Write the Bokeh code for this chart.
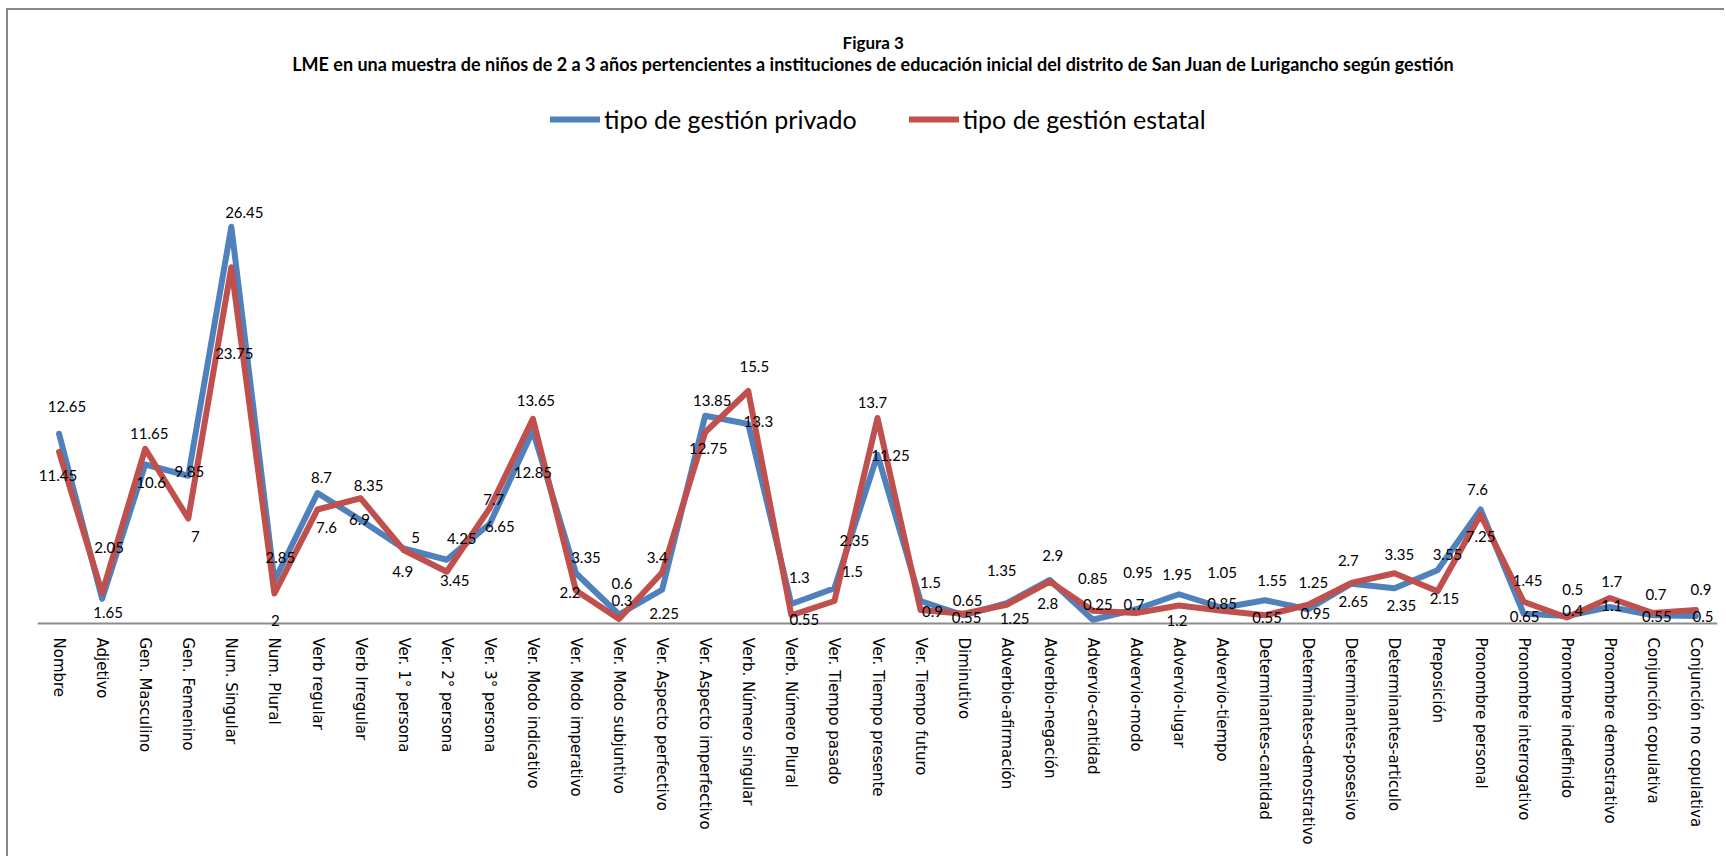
from bokeh.plotting import figure
from bokeh.models import (ColumnDataSource, FactorRange, Range1d, LabelSet, Label,
                          Legend, LegendItem, Span)
from bokeh.core.properties import value
from bokeh.embed import file_html
from bokeh.resources import INLINE

# Categorías gramaticales (eje X)
categorias = [
    "Nombre", "Adjetivo", "Gen. Masculino", "Gen. Femenino", "Num. Singular",
    "Num. Plural", "Verb regular", "Verb Irregular", "Ver. 1° persona",
    "Ver. 2° persona", "Ver. 3° persona", "Ver. Modo indicativo",
    "Ver. Modo imperativo", "Ver. Modo subjuntivo", "Ver. Aspecto perfectivo",
    "Ver. Aspecto imperfectivo", "Verb. Número singular", "Verb. Número Plural",
    "Ver. Tiempo pasado", "Ver. Tiempo presente", "Ver. Tiempo futuro",
    "Diminutivo", "Adverbio-afirmación", "Adverbio-negación", "Advervio-cantidad",
    "Advervio-modo", "Advervio-lugar", "Advervio-tiempo", "Determinantes-cantidad",
    "Determinates-demostrativo", "Determinantes-posesivo", "Determinantes-articulo",
    "Preposición", "Pronombre personal", "Pronombre interrogativo",
    "Pronombre indefinido", "Pronombre demostrativo", "Conjunción copulativa",
    "Conjunción no copulativa",
]

# Promedios por tipo de gestión
privado = [
    12.65, 1.65, 10.6, 9.85, 26.45, 2.85, 8.7, 6.9, 5, 4.25, 6.65, 12.85,
    3.35, 0.6, 2.25, 13.85, 13.3, 1.3, 2.35, 11.25, 1.5, 0.55, 1.35, 2.9,
    0.25, 0.95, 1.95, 1.05, 1.55, 0.95, 2.65, 2.35, 3.55, 7.6, 0.65, 0.5,
    1.1, 0.55, 0.5,
]
estatal = [
    11.45, 2.05, 11.65, 7, 23.75, 2, 7.6, 8.35, 4.9, 3.45, 7.7, 13.65,
    2.2, 0.3, 3.4, 12.75, 15.5, 0.55, 1.5, 13.7, 0.9, 0.65, 1.25, 2.8,
    0.85, 0.7, 1.2, 0.85, 0.55, 1.25, 2.7, 3.35, 2.15, 7.25, 1.45, 0.4,
    1.7, 0.7, 0.9,
]

titulo = "Figura 3"
subtitulo = ("LME en una muestra de niños de 2 a 3 años pertencientes a instituciones "
             "de educación inicial del distrito de San Juan de Lurigancho según gestión")
nombre_privado = "tipo de gestión privado"
nombre_estatal = "tipo de gestión estatal"

# Desplazamiento (px) de cada etiqueta de valor respecto de su punto
# (positivo: a la derecha / hacia arriba)
etiq_dx_privado = [8, 6, 6, 1, 13, 6, 4, -1, 12, 15, 10, 0, 10, 3, 2, 7, 10, 8, 20,
                   13, 10, 3, -5, 3, 5, 2, -2, 0, 7, 7, 2, 7, 10, -3, 1, 6, 2, 4, 7]
etiq_dy_privado = [27, -14, -18, 4, 14, 23, 16, 1, 11, 21, -3, -42, 16, 31, -24, 15,
                   3, 27, 48, -1, 19, -2, 33, 25, 15, 37, 20, 35, 20, -4, -18, -17,
                   16, 20, -3, 27, 2, -1, 0]
etiq_dx_estatal = [-1, 7, 4, 7, 3, 1, 9, 8, -1, 8, 4, 3, -6, 3, -5, 3, 6, 13, 18,
                   -5, 12, 4, 8, -2, 0, -2, -2, 0, 2, 5, -3, 5, 7, 0, 4, 6, 2, 3, 5]
etiq_dy_estatal = [-24, 45, 15, -18, -86, -27, -18, 13, -21, -9, 9, 18, -2, 19, 15,
                   -16, 25, -4, 30, 16, -1, 13, -14, -22, 32, 9, -15, 7, -2, 22, 23,
                   19, -7, -22, 21, 7, 17, 19, 21]

AZUL = "#4F81BD"
ROJO = "#C0504D"
GRIS = "#8c8c8c"
FUENTE = "Lato"

# El área de trazado cubre también la franja del título y la leyenda,
# para que los textos de arriba y los que rozan la base no se recorten.
p = figure(
    x_range=FactorRange(factors=categorias, range_padding=0),
    y_range=Range1d(-2, 40.87),
    width=1718, height=848,
    margin=(8, 0, 0, 6),
    min_border_left=29, min_border_right=9,
    min_border_top=0, min_border_bottom=205,
    output_backend="svg", toolbar_location=None,
)
p.styles = {"border-left": "2px solid #878787", "border-top": "2px solid #878787"}
p.outline_line_color = None
p.xgrid.visible = False
p.ygrid.visible = False
p.yaxis.visible = False

ax = p.xaxis[0]
ax.axis_line_color = None
ax.major_tick_line_color = None
ax.minor_tick_line_color = None
ax.major_tick_out = 0
ax.major_tick_in = 0
ax.major_label_standoff = -16
ax.major_label_orientation = "vertical"
ax.major_label_text_font = "DejaVu Sans"
ax.major_label_text_font_size = "15px"
ax.major_label_text_color = "#000000"

# Línea base del eje de categorías en y = 0
p.add_layout(Span(location=0, dimension="width", line_color=GRIS, line_width=2))

src = ColumnDataSource(dict(cat=categorias, priv=privado, est=estatal))
r_priv = p.line("cat", "priv", source=src, color=AZUL, line_width=6,
                line_join="round", line_cap="round")
r_est = p.line("cat", "est", source=src, color=ROJO, line_width=6,
               line_join="round", line_cap="round")

# Etiquetas de valor de ambas series
for serie, dx, dy in ((privado, etiq_dx_privado, etiq_dy_privado),
                      (estatal, etiq_dx_estatal, etiq_dy_estatal)):
    etiquetas = ColumnDataSource(dict(
        cat=categorias, val=serie, txt=[f"{v:g}" for v in serie], dx=dx, dy=dy))
    p.add_layout(LabelSet(
        x="cat", y="val", text="txt", x_offset="dx", y_offset="dy", source=etiquetas,
        text_align="center", text_baseline="middle",
        text_font=value(FUENTE), text_font_size=value("15px"),
        text_color="#000000"))

p.add_layout(Label(x=19.4, y=38.73, text=titulo, text_align="center",
                   text_baseline="middle", text_font=FUENTE, text_font_style="bold",
                   text_font_size="17px", text_color="#000000"))
p.add_layout(Label(x=19.4, y=37.33, text=subtitulo, text_align="center",
                   text_baseline="middle", text_font=FUENTE, text_font_style="bold",
                   text_font_size="18px", text_color="#000000"))

leyenda = Legend(
    items=[LegendItem(label=nombre_privado, renderers=[r_priv]),
           LegendItem(label=nombre_estatal, renderers=[r_est])],
    orientation="horizontal", location=(513, 519),
    label_text_font=FUENTE, label_text_font_size="25px", label_text_color="#000000",
    glyph_width=50, glyph_height=28, label_standoff=4, spacing=52,
    padding=0, margin=0, border_line_color=None, background_fill_alpha=0,
)
p.add_layout(leyenda)

open("out.html", "w").write(file_html(p, INLINE))
